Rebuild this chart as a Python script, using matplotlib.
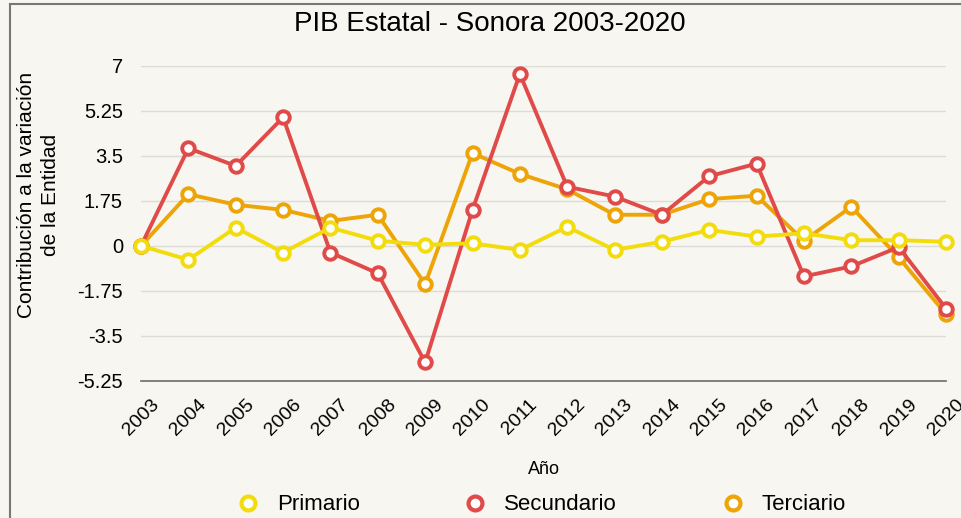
import matplotlib
matplotlib.use('Agg')
import matplotlib.pyplot as plt
from matplotlib.lines import Line2D

plt.rcParams['font.family'] = ['Liberation Sans', 'DejaVu Sans']

years = list(range(2003, 2021))
primario = [0.0, -0.54, 0.71, -0.26, 0.71, 0.2, 0.04, 0.1, -0.16, 0.74,
            -0.16, 0.16, 0.62, 0.36, 0.49, 0.22, 0.22, 0.16]
secundario = [0.0, 3.8, 3.11, 5.0, -0.26, -1.07, -4.54, 1.4, 6.69, 2.3,
              1.92, 1.21, 2.71, 3.2, -1.19, -0.8, -0.05, -2.44]
terciario = [0.0, 2.01, 1.6, 1.4, 0.97, 1.21, -1.49, 3.61, 2.8, 2.2,
             1.21, 1.21, 1.82, 1.95, 0.2, 1.52, -0.45, -2.66]
yticks = [-5.25, -3.5, -1.75, 0, 1.75, 3.5, 5.25, 7]
ytick_labels = ['-5.25', '-3.5', '-1.75', '0', '1.75', '3.5', '5.25', '7']

BG = '#f7f6f1'
series = [
    ('Primario', primario, '#f2dc0c'),
    ('Secundario', secundario, '#e04a48'),
    ('Terciario', terciario, '#eda407'),
]

fig = plt.figure(figsize=(9.62, 5.18), dpi=100, facecolor=BG)
ax = fig.add_axes([0.1466, 0.265, 0.8368, 0.6076], facecolor=BG)

x = list(range(len(years)))
# draw in reverse so yellow sits on top like the reference
for name, vals, col in reversed(series):
    ax.plot(x, vals, color=col, lw=2.8, marker='o', markersize=9,
            markerfacecolor='white', markeredgecolor=col, markeredgewidth=2.8,
            clip_on=False, zorder=3, label=name)

ax.set_xlim(0, len(years) - 1)
ax.set_ylim(-5.25, 7)
ax.set_yticks(yticks)
ax.set_yticklabels(ytick_labels, fontsize=14.5)
ax.set_xticks(x)
ax.set_xticklabels([str(y) for y in years], rotation=45, fontsize=14)
ax.tick_params(length=0)
ax.tick_params(axis='y', pad=13)
ax.tick_params(axis='x', pad=11)
ax.grid(axis='y', color='#dddbd6', lw=1)
ax.set_axisbelow(True)
for s in ['top', 'right', 'left']:
    ax.spines[s].set_visible(False)
ax.spines['bottom'].set_color('#6b6b6b')
ax.spines['bottom'].set_linewidth(1.2)

ax.set_xlabel('Año', fontsize=13, labelpad=16)
fig.text(0.04, 1 - 195 / 518, 'Contribución a la variación\nde la Entidad',
         rotation=90, ha='center', va='center', fontsize=15, linespacing=1.35)

fig.text(0.5095, 1 - 24 / 518, 'PIB Estatal - Sonora 2003-2020',
         ha='center', va='center', fontsize=20)

handles = [Line2D([], [], ls='none', marker='o', markersize=10,
                  markerfacecolor='white', markeredgecolor=col,
                  markeredgewidth=3) for _, _, col in series]
fig.legend(handles, [n for n, _, _ in series], loc='center left',
           bbox_to_anchor=(237 / 962, 1 - 505 / 518), ncol=3, frameon=False,
           fontsize=16, handlelength=1.0, handletextpad=0.8,
           columnspacing=4.7, borderpad=0, borderaxespad=0)

# frame lines at top and left
fig.add_artist(Line2D([10 / 962, 10 / 962], [0, 1 - 4 / 518],
                      transform=fig.transFigure, color='#777777', lw=1.5))
fig.add_artist(Line2D([10 / 962, 1], [1 - 4 / 518, 1 - 4 / 518],
                      transform=fig.transFigure, color='#777777', lw=1.5))

fig.savefig('out.png', dpi=100, facecolor=BG)
